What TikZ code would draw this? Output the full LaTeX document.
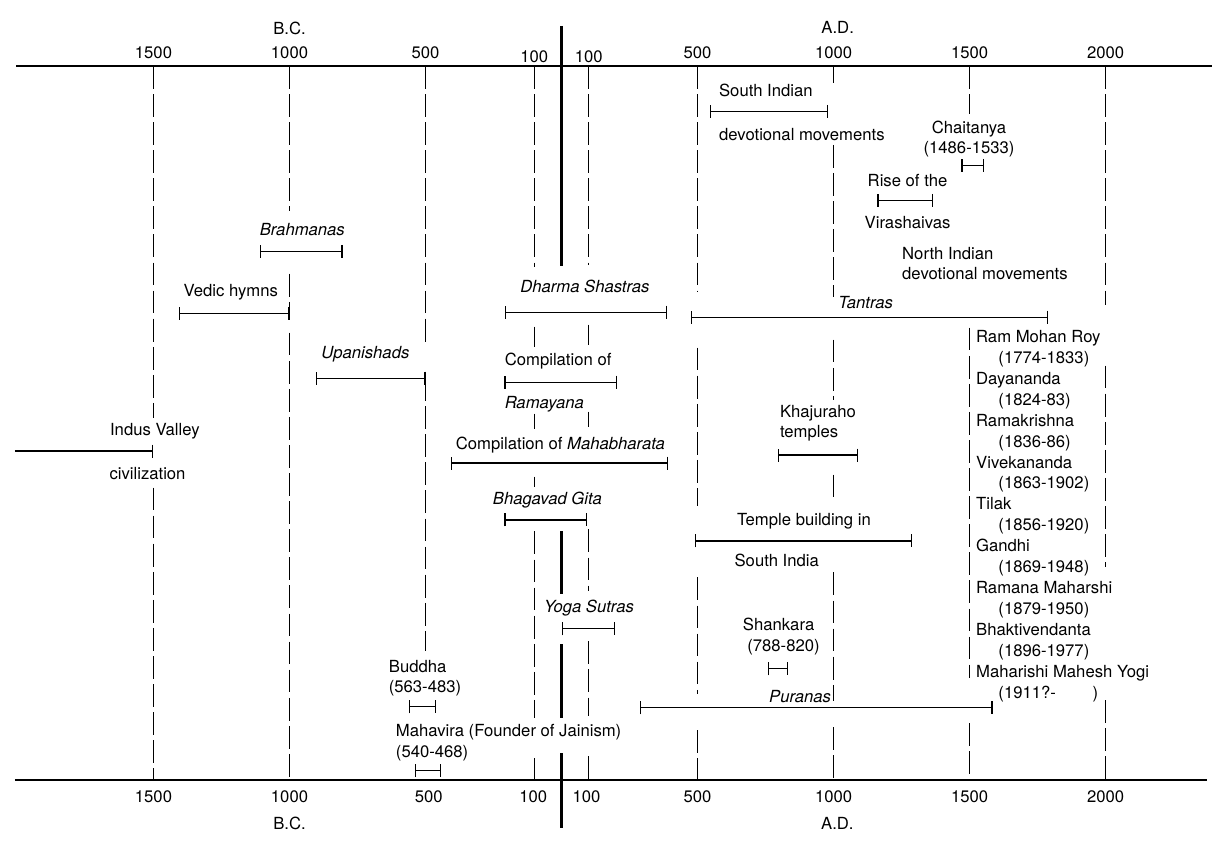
\documentclass[tikz,border=0pt]{standalone}
\usepackage{fontspec}
\setmainfont{TeX Gyre Heros}
\usepackage{tikz}
\usetikzlibrary{arrows.meta}
\tikzset{
    lbl/.style={inner sep=0pt, text height=6.8pt, text depth=0pt, font=\fontsize{9.5}{11}\selectfont},
    work/.style={lbl, font=\fontsize{9.5}{11}\selectfont\itshape},
    timeaxis/.style={line width=1pt},
    gridline/.style={line width=0.8pt, dash pattern=on 13pt off 3pt},
    era/.style={line width=1.3pt},
    period/.style={line width=0.7pt, {Bar[width=7.4pt]}-{Bar[width=7.4pt]}}
}

\begin{document}
\begin{tikzpicture}[x=0.00544cm, y=-0.02cm]
    \useasboundingbox (-2064.3,0) rectangle (2391.2,843);

    % time axes
    \draw [timeaxis] (-2005,66) -- (2391,66);
    \draw [timeaxis] (-2010,780.5) -- (2372,780.5);

    % year lines
    \draw [era] (0,26) -- (0,266) (0,532) -- (0,595) (0,645) -- (0,719) (0,754) -- (0,829);
    \draw [gridline] (-1500,66) -- (-1500,418) (-1500,488) -- (-1500,780.5);
    \draw [gridline] (-1000,66) -- (-1000,211) (-1000,274) -- (-1000,313.5) (-1000,333) -- (-1000,780.5);
    \draw [gridline] (-500,66) -- (-500,344) (-500,378.5) -- (-500,652);
    \draw [gridline] (-100,66) -- (-100,267) (-100,327) -- (-100,347) (-100,414) -- (-100,429)
        (-100,477) -- (-100,487) (-100,532) -- (-100,719) (-100,759) -- (-100,780.5);
    \draw [gridline] (100,66) -- (100,265) (100,325) -- (100,345) (100,412) -- (100,427)
        (100,530) -- (100,592) (100,642) -- (100,717) (100,757) -- (100,780.5);
    \draw [gridline] (500,66) -- (500,291) (500,348) -- (500,506) (500,578) -- (500,695) (500,731) -- (500,780.5);
    \draw [gridline] (1000,66) -- (1000,83) (1000,145) -- (1000,297) (1000,340) -- (1000,400)
        (1000,475) -- (1000,500) (1000,573) -- (1000,702) (1000,728) -- (1000,780.5);
    \draw [gridline] (1500,66) -- (1500,114) (1500,328) -- (1500,679) (1500,724) -- (1500,780.5);
    \draw [gridline] (2000,66) -- (2000,305) (2000,366) -- (2000,568) (2000,701) -- (2000,780.5);

    % scale labels
    \node (tbc) [lbl] at (-1000,29) {B.C.};
    \node (tad) [lbl] at (1015,28) {A.D.};
    \node (t1500b) [lbl] at (-1500,53) {1500};
    \node (t1000b) [lbl] at (-1000,53) {1000};
    \node (t500b) [lbl] at (-500,53) {500};
    \node (t100b) [lbl] at (-100,57) {100};
    \node (t100a) [lbl] at (100,57) {100};
    \node (t500a) [lbl] at (500,53) {500};
    \node (t1000a) [lbl] at (1000,53) {1000};
    \node (t1500a) [lbl] at (1500,53) {1500};
    \node (t2000a) [lbl] at (2000,53) {2000};
    \node (b1500b) [lbl] at (-1500,797.5) {1500};
    \node (b1000b) [lbl] at (-1000,797.5) {1000};
    \node (b500b) [lbl] at (-488,797.5) {500};
    \node (b100b) [lbl] at (-104,797.5) {100};
    \node (b100a) [lbl] at (92,797.5) {100};
    \node (b500a) [lbl] at (500,797.5) {500};
    \node (b1000a) [lbl] at (1000,797.5) {1000};
    \node (b1500a) [lbl] at (1500,797.5) {1500};
    \node (b2000a) [lbl] at (2000,797.5) {2000};
    \node (bbc) [lbl] at (-1000,824.5) {B.C.};
    \node (bad) [lbl] at (1014,824) {A.D.};

    % periods B.C.
    \node (indus) [lbl] at (-1495,430) {Indus Valley};
    \node (civil) [lbl] at (-1522,474) {civilization};
    \draw [line width=0.7pt, -{Bar[width=7.4pt]}] (-2010,451.5) -- (-1500,451.5);
    \node (vedic) [lbl] at (-1216,291) {Vedic hymns};
    \draw [period] (-1408,313.5) -- (-1000,313.5);
    \node (brahm) [work] at (-953,229.4) {Brahmanas};
    \draw [period] (-1108,251.5) -- (-805,251.5);
    \node (upan) [work] at (-721,353) {Upanishads};
    \draw [period] (-903,378.5) -- (-500,378.5);
    \node (buddha) [lbl, anchor=west] at (-636,667.2) {Buddha};
    \node (buddhayr) [lbl, anchor=west] at (-636,687.6) {(563-483)};
    \draw [period] (-560,707.5) -- (-462,707.5);
    \node (mahav) [lbl, anchor=west] at (-610,731.6) {Mahavira (Founder of Jainism)};
    \node (mahavyr) [lbl, anchor=west] at (-610,752.6) {(540-468)};
    \draw [period] (-539,771.5) -- (-442,771.5);

    % middle column
    \node (dharma) [work] at (86,286.4) {Dharma Shastras};
    \draw [period] (-207,312.5) -- (389,312.5);
    \node (comp) [lbl, anchor=west] at (-210,360) {Compilation of};
    \node (ramay) [work, anchor=west] at (-210,403.2) {Ramayana};
    \draw [period] (-210,382.5) -- (203,382.5);
    \node (mahab) [lbl] at (-4,443.8) {Compilation of \textit{Mahabharata}};
    \draw [period] (-407,463.5) -- (393,463.5);
    \node (gita) [work] at (-52,498.7) {Bhagavad Gita};
    \draw [period] (-210,520.5) -- (93,520.5);
    \node (yoga) [work] at (101,606.7) {Yoga Sutras};
    \draw [period] (0,629.5) -- (196,629.5);
    \node (puranas) [work] at (877,697.3) {Puranas};
    \draw [period] (289,708.5) -- (1585,708.5);

    % periods A.D.
    \node (sind) [lbl, anchor=west] at (578,91) {South Indian};
    \node (sdev) [lbl, anchor=west] at (578,134.5) {devotional movements};
    \draw [period] (544,111.5) -- (979,111.5);
    \node (chait) [lbl] at (1498,127.4) {Chaitanya};
    \node (chaityr) [lbl] at (1498,148) {(1486-1533)};
    \draw [period] (1470,165.5) -- (1553,165.5);
    \node (rise) [lbl] at (1272,181) {Rise of the};
    \node (virash) [lbl] at (1272,223) {Virashaivas};
    \draw [period] (1161,200.5) -- (1365,200.5);
    \node (nind) [lbl, anchor=west] at (1251,253.5) {North Indian};
    \node (ndev) [lbl, anchor=west] at (1251,273.7) {devotional movements};
    \node (tantras) [work] at (1118,303) {Tantras};
    \draw [period] (476,317.5) -- (1790,317.5);
    \node (khaj) [lbl, anchor=west] at (802,411.7) {Khajuraho};
    \node (khtem) [lbl, anchor=west] at (802,432.1) {temples};
    \draw [period] (794,455.5) -- (1090,455.5);
    \node (tbuild) [lbl, anchor=west] at (644,520.3) {Temple building in};
    \node (sindia) [lbl, anchor=west] at (635,560.7) {South India};
    \draw [period] (490,541.5) -- (1288,541.5);
    \node (shank) [lbl] at (798,625.3) {Shankara};
    \node (shankyr) [lbl] at (816,646.6) {(788-820)};
    \draw [period] (758,669.5) -- (832,669.5);

    % modern figures
    \node (rmr) [lbl, anchor=west] at (1523,336.5) {Ram Mohan Roy};
    \node (rmryr) [lbl, anchor=west] at (1605,357.5) {(1774-1833)};
    \node (daya) [lbl, anchor=west] at (1523,378.5) {Dayananda};
    \node (dayayr) [lbl, anchor=west] at (1605,399.5) {(1824-83)};
    \node (rama) [lbl, anchor=west] at (1523,420.5) {Ramakrishna};
    \node (ramayr) [lbl, anchor=west] at (1605,441.5) {(1836-86)};
    \node (vive) [lbl, anchor=west] at (1523,462.5) {Vivekananda};
    \node (viveyr) [lbl, anchor=west] at (1605,483.5) {(1863-1902)};
    \node (tilak) [lbl, anchor=west] at (1523,504.5) {Tilak};
    \node (tilakyr) [lbl, anchor=west] at (1605,525.5) {(1856-1920)};
    \node (gandhi) [lbl, anchor=west] at (1523,546.5) {Gandhi};
    \node (gandhiyr) [lbl, anchor=west] at (1605,567.5) {(1869-1948)};
    \node (ramana) [lbl, anchor=west] at (1523,588.5) {Ramana Maharshi};
    \node (ramanayr) [lbl, anchor=west] at (1605,609.5) {(1879-1950)};
    \node (bhakti) [lbl, anchor=west] at (1523,630.5) {Bhaktivendanta};
    \node (bhaktiyr) [lbl, anchor=west] at (1605,651.5) {(1896-1977)};
    \node (mmy) [lbl, anchor=west] at (1523,672.5) {Maharishi Mahesh Yogi};
    \node (mmyyr) [lbl, anchor=west] at (1605,693.5) {(1911?-\hspace{2.2em})};
\end{tikzpicture}
\end{document}
